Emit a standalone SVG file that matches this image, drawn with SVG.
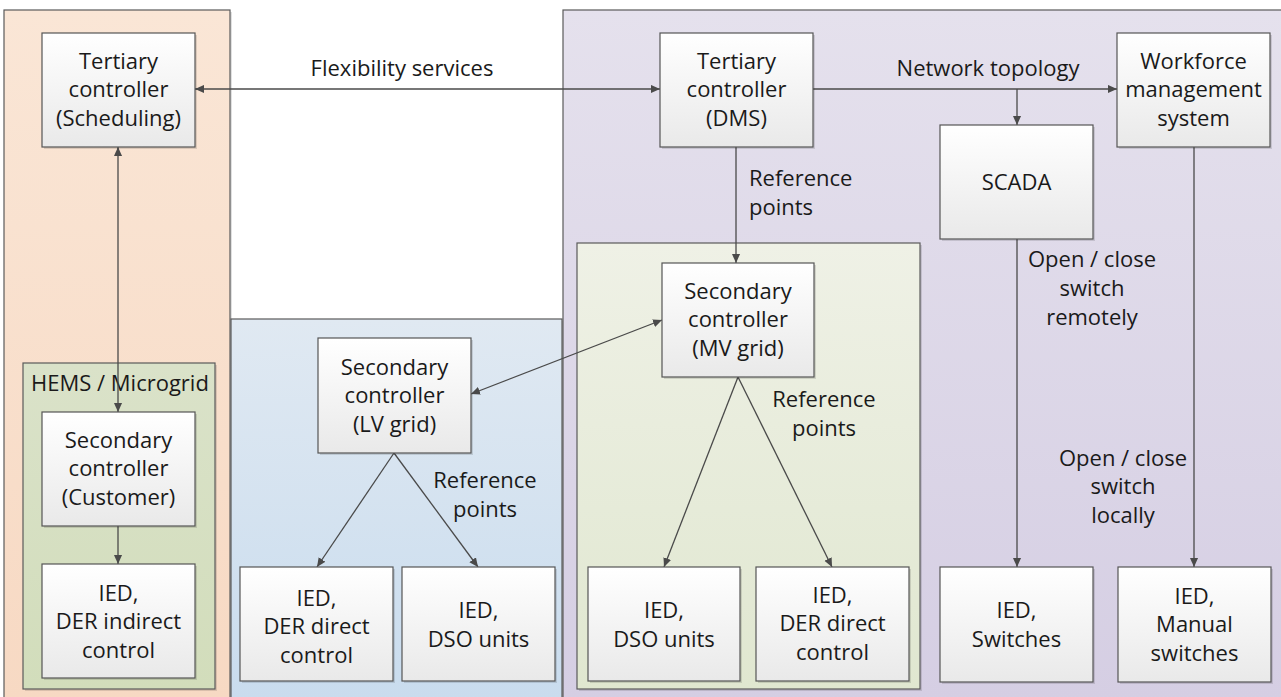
<svg xmlns="http://www.w3.org/2000/svg" width="1281" height="697" viewBox="0 0 1281 697">
<defs>
<linearGradient id="gBox" x1="0" y1="0" x2="0" y2="1"><stop offset="0" stop-color="#ffffff"/><stop offset="1" stop-color="#e9e9e9"/></linearGradient>
<linearGradient id="gOr" x1="0" y1="0" x2="0" y2="1"><stop offset="0" stop-color="#fae6d6"/><stop offset="1" stop-color="#f7d9c3"/></linearGradient>
<linearGradient id="gBl" x1="0" y1="0" x2="0" y2="1"><stop offset="0" stop-color="#e0e9f2"/><stop offset="1" stop-color="#c9dcee"/></linearGradient>
<linearGradient id="gPu" x1="0" y1="0" x2="0" y2="1"><stop offset="0" stop-color="#e5e1ed"/><stop offset="1" stop-color="#d5cee3"/></linearGradient>
<linearGradient id="gGr1" x1="0" y1="0" x2="0" y2="1"><stop offset="0" stop-color="#dae2c9"/><stop offset="1" stop-color="#d2ddbb"/></linearGradient>
<linearGradient id="gGr2" x1="0" y1="0" x2="0" y2="1"><stop offset="0" stop-color="#eff1e6"/><stop offset="1" stop-color="#e0e7d0"/></linearGradient>
<marker id="arr" viewBox="0 0 10 10" refX="10" refY="5" markerWidth="9" markerHeight="9" markerUnits="userSpaceOnUse" orient="auto-start-reverse"><path d="M0,0.5 L10,5 L0,9.5 Z" fill="#4a4a4a"/></marker>
</defs>
<style>
.region{stroke:#5a5a5a;stroke-width:1.2}
.shadow{fill:#000;opacity:0.12}
.box{fill:url(#gBox);stroke:#555;stroke-width:1.2}
text{font-family:"Open Sans","Liberation Sans",sans-serif;font-size:22px;fill:#1a1a1a;text-anchor:middle}
.conn line,.conn path{stroke:#4a4a4a;stroke-width:1.3;fill:none}
</style>
<rect width="1281" height="697" fill="#ffffff"/>
<g id="regions">
<rect x="6" y="12" width="226" height="690" class="shadow"/>
<rect x="4" y="10" width="226" height="690" fill="url(#gOr)" class="region"/>
<rect x="233" y="321" width="331" height="380" class="shadow"/>
<rect x="231" y="319" width="331" height="380" fill="url(#gBl)" class="region"/>
<rect x="565" y="12" width="720" height="690" class="shadow"/>
<rect x="563" y="10" width="720" height="690" fill="url(#gPu)" class="region"/>
<rect x="25" y="365" width="192" height="326" class="shadow"/>
<rect x="23" y="363" width="192" height="326" fill="url(#gGr1)" class="region"/>
<text x="31" y="391" style="text-anchor:start">HEMS / Microgrid</text>
<rect x="579" y="245" width="343" height="446" class="shadow"/>
<rect x="577" y="243" width="343" height="446" fill="url(#gGr2)" class="region"/>
</g>
<g class="conn" id="connectors">
<line x1="195" y1="89" x2="660" y2="89" marker-start="url(#arr)" marker-end="url(#arr)"/>
<line x1="118" y1="147" x2="118" y2="412" marker-start="url(#arr)" marker-end="url(#arr)"/>
<line x1="118" y1="526" x2="118" y2="564" marker-end="url(#arr)"/>
<line x1="813" y1="89" x2="1117" y2="89" marker-end="url(#arr)"/>
<line x1="1017" y1="89" x2="1017" y2="125" marker-end="url(#arr)"/>
<line x1="736" y1="147" x2="736" y2="263" marker-end="url(#arr)"/>
<line x1="662" y1="320" x2="471" y2="394" marker-start="url(#arr)" marker-end="url(#arr)"/>
<line x1="394" y1="453" x2="317" y2="567" marker-end="url(#arr)"/>
<line x1="394" y1="453" x2="478" y2="567" marker-end="url(#arr)"/>
<line x1="738" y1="377" x2="664" y2="567" marker-end="url(#arr)"/>
<line x1="738" y1="377" x2="832" y2="567" marker-end="url(#arr)"/>
<line x1="1017" y1="239" x2="1017" y2="567" marker-end="url(#arr)"/>
<line x1="1194" y1="147" x2="1194" y2="567" marker-end="url(#arr)"/>
</g>
<g id="labels">
<text x="402" y="76">Flexibility services</text>
<text x="988" y="76">Network topology</text>
<text x="749" y="186" style="text-anchor:start">Reference</text>
<text x="749" y="215" style="text-anchor:start">points</text>
<text x="485" y="488">Reference</text>
<text x="485" y="517">points</text>
<text x="824" y="407">Reference</text>
<text x="824" y="436">points</text>
<text x="1092" y="267">Open / close</text>
<text x="1092" y="296">switch</text>
<text x="1092" y="325">remotely</text>
<text x="1123" y="466">Open / close</text>
<text x="1123" y="494">switch</text>
<text x="1123" y="523">locally</text>
</g>
<g id="n_tert_sched"><rect x="44" y="35" width="153" height="114" class="shadow"/><rect x="42" y="33" width="153" height="114" class="box"/>
<text x="118.5" y="69">Tertiary</text><text x="118.5" y="97">controller</text><text x="118.5" y="126">(Scheduling)</text></g>
<g id="n_sec_cust"><rect x="44" y="414" width="153" height="114" class="shadow"/><rect x="42" y="412" width="153" height="114" class="box"/>
<text x="118.5" y="448">Secondary</text><text x="118.5" y="476">controller</text><text x="118.5" y="505">(Customer)</text></g>
<g id="n_ied_der_ind"><rect x="44" y="566" width="153" height="114" class="shadow"/><rect x="42" y="564" width="153" height="114" class="box"/>
<text x="118.5" y="601">IED,</text><text x="118.5" y="629">DER indirect</text><text x="118.5" y="658">control</text></g>
<g id="n_sec_lv"><rect x="320" y="340" width="153" height="115" class="shadow"/><rect x="318" y="338" width="153" height="115" class="box"/>
<text x="394.5" y="375">Secondary</text><text x="394.5" y="403">controller</text><text x="394.5" y="432">(LV grid)</text></g>
<g id="n_lv_ied_der"><rect x="242" y="569" width="153" height="114" class="shadow"/><rect x="240" y="567" width="153" height="114" class="box"/>
<text x="316.5" y="606">IED,</text><text x="316.5" y="634">DER direct</text><text x="316.5" y="663">control</text></g>
<g id="n_lv_ied_dso"><rect x="404" y="569" width="153" height="114" class="shadow"/><rect x="402" y="567" width="153" height="114" class="box"/>
<text x="478.5" y="618">IED,</text><text x="478.5" y="647">DSO units</text></g>
<g id="n_tert_dms"><rect x="662" y="35" width="153" height="114" class="shadow"/><rect x="660" y="33" width="153" height="114" class="box"/>
<text x="736.5" y="69">Tertiary</text><text x="736.5" y="97">controller</text><text x="736.5" y="126">(DMS)</text></g>
<g id="n_sec_mv"><rect x="664" y="265" width="152" height="114" class="shadow"/><rect x="662" y="263" width="152" height="114" class="box"/>
<text x="738" y="299">Secondary</text><text x="738" y="327">controller</text><text x="738" y="356">(MV grid)</text></g>
<g id="n_mv_ied_dso"><rect x="590" y="569" width="152" height="114" class="shadow"/><rect x="588" y="567" width="152" height="114" class="box"/>
<text x="664" y="618">IED,</text><text x="664" y="647">DSO units</text></g>
<g id="n_mv_ied_der"><rect x="758" y="569" width="153" height="114" class="shadow"/><rect x="756" y="567" width="153" height="114" class="box"/>
<text x="832.5" y="603">IED,</text><text x="832.5" y="631">DER direct</text><text x="832.5" y="660">control</text></g>
<g id="n_scada"><rect x="942" y="127" width="153" height="114" class="shadow"/><rect x="940" y="125" width="153" height="114" class="box"/>
<text x="1016.5" y="190">SCADA</text></g>
<g id="n_workforce"><rect x="1119" y="35" width="153" height="114" class="shadow"/><rect x="1117" y="33" width="153" height="114" class="box"/>
<text x="1193.5" y="69">Workforce</text><text x="1193.5" y="97">management</text><text x="1193.5" y="126">system</text></g>
<g id="n_ied_switches"><rect x="942" y="569" width="153" height="115" class="shadow"/><rect x="940" y="567" width="153" height="115" class="box"/>
<text x="1016.5" y="618">IED,</text><text x="1016.5" y="647">Switches</text></g>
<g id="n_ied_manual"><rect x="1120" y="569" width="153" height="115" class="shadow"/><rect x="1118" y="567" width="153" height="115" class="box"/>
<text x="1194.5" y="604">IED,</text><text x="1194.5" y="632">Manual</text><text x="1194.5" y="661">switches</text></g>
</svg>
